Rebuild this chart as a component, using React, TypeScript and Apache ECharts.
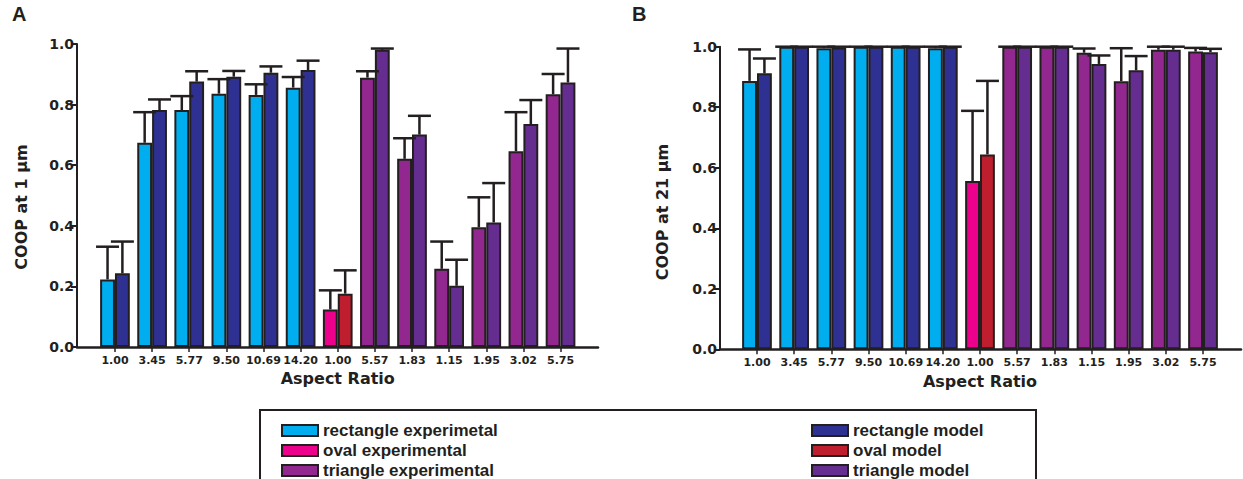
import React, { useEffect, useRef } from "react";
import * as echarts from "echarts";

const categories = ["1.00", "3.45", "5.77", "9.50", "10.69", "14.20", "1.00", "5.57", "1.83", "1.15", "1.95", "3.02", "5.75"];

// Panel A: COOP at 1 µm
const aExp = [0.223, 0.674, 0.782, 0.836, 0.832, 0.856, 0.124, 0.889, 0.621, 0.258, 0.395, 0.646, 0.834];
const aExpSd = [0.108, 0.101, 0.046, 0.048, 0.035, 0.035, 0.063, 0.021, 0.068, 0.09, 0.099, 0.129, 0.067];
const aModel = [0.243, 0.782, 0.876, 0.892, 0.905, 0.914, 0.176, 0.981, 0.701, 0.202, 0.411, 0.736, 0.873];
const aModelSd = [0.105, 0.035, 0.034, 0.019, 0.021, 0.031, 0.077, 0.004, 0.062, 0.086, 0.13, 0.079, 0.112];

// Panel B: COOP at 21 µm
const bExp = [0.887, 1.0, 0.995, 1.0, 1.0, 0.995, 0.556, 1.0, 1.0, 0.98, 0.886, 0.99, 0.984];
const bExpSd = [0.104, 0, 0.005, 0, 0, 0.005, 0.232, 0, 0, 0.014, 0.109, 0.01, 0.012];
const bModel = [0.912, 1.0, 0.997, 1.0, 1.0, 1.0, 0.644, 1.0, 1.0, 0.943, 0.922, 0.99, 0.982];
const bModelSd = [0.049, 0, 0.003, 0, 0, 0, 0.243, 0, 0, 0.028, 0.047, 0.01, 0.011];

const yTicks = [0, 0.2, 0.4, 0.6, 0.8, 1.0];

const shapes = [
  { exp: "rectangle experimetal", model: "rectangle model", from: 0, to: 5, expColor: "#00AEEF", modelColor: "#2E3192" },
  { exp: "oval experimental", model: "oval model", from: 6, to: 6, expColor: "#EC008C", modelColor: "#BE1E2D" },
  { exp: "triangle experimental", model: "triangle model", from: 7, to: 12, expColor: "#92278F", modelColor: "#662D91" },
];

const GAP = 0.2;
const INK = "#231F20";
const NUM_FONT = "DejaVu Sans";

function buildPanel(
  p: number,
  frame: { left: number; top: number; width: number; height: number },
  bars: { left: number; width: number },
  yName: string,
  yPad: number,
  yGap: number,
  exp: number[],
  expSd: number[],
  model: number[],
  modelSd: number[]
) {
  const fi = p * 2;
  const bi = p * 2 + 1;
  const grids = [
    { left: frame.left, top: frame.top, width: frame.width, height: frame.height },
    { left: bars.left, top: frame.top, width: bars.width, height: frame.height },
  ];
  const xAxes = [
    {
      gridIndex: fi,
      type: "value",
      min: 0,
      max: 1,
      axisLine: { show: true, lineStyle: { color: INK, width: 2.5 } },
      axisTick: { show: false },
      axisLabel: { show: false },
      splitLine: { show: false },
    },
    {
      gridIndex: bi,
      type: "category",
      data: categories,
      axisLine: { show: false },
      axisTick: { show: true, alignWithLabel: true, length: 5, lineStyle: { color: INK, width: 1.5 } },
      axisLabel: { interval: 0, margin: 8, color: INK, fontSize: 11, fontWeight: "bold", fontFamily: NUM_FONT },
      splitLine: { show: false },
      name: "Aspect Ratio",
      nameLocation: "middle",
      nameGap: 22,
      nameTextStyle: { color: INK, fontSize: 16, fontWeight: "bold", fontFamily: NUM_FONT },
    },
  ];
  const yAxes = [
    {
      gridIndex: fi,
      type: "value",
      min: 0,
      max: 1,
      interval: 0.2,
      axisLine: { show: true, lineStyle: { color: INK, width: 2 } },
      axisTick: { show: true, length: 6, lineStyle: { color: INK, width: 2 } },
      axisLabel: {
        margin: 3,
        color: INK,
        fontSize: 14,
        fontWeight: "bold",
        fontFamily: NUM_FONT,
        formatter: (v: number) => (yTicks.some((t) => Math.abs(t - v) < 1e-6) ? v.toFixed(1) : ""),
      },
      splitLine: { show: false },
      name: yName,
      nameLocation: "middle",
      nameGap: yGap,
      nameTextStyle: { color: INK, fontSize: 16, fontWeight: "bold", fontFamily: NUM_FONT, padding: [0, yPad, 0, 0] },
    },
    { gridIndex: bi, type: "value", min: 0, max: 1, show: false },
  ];
  const series: any[] = [];
  shapes.forEach((s) => {
    const pick = (arr: number[]) => arr.map((v, i) => (i >= s.from && i <= s.to ? v : "-"));
    series.push({
      name: s.exp,
      type: "bar",
      xAxisIndex: bi,
      yAxisIndex: bi,
      stack: "exp" + p,
      barCategoryGap: GAP * 100 + "%",
      barGap: "0%",
      data: pick(exp),
      itemStyle: { color: s.expColor, borderColor: INK, borderWidth: 2 },
    });
    series.push({
      name: s.model,
      type: "bar",
      xAxisIndex: bi,
      yAxisIndex: bi,
      stack: "model" + p,
      barCategoryGap: GAP * 100 + "%",
      barGap: "0%",
      data: pick(model),
      itemStyle: { color: s.modelColor, borderColor: INK, borderWidth: 2 },
    });
  });
  const errData = [
    ...exp.map((v, i) => [i, v, expSd[i], 0]),
    ...model.map((v, i) => [i, v, modelSd[i], 1]),
  ];
  series.push({
    type: "custom",
    xAxisIndex: bi,
    yAxisIndex: bi,
    z: 5,
    silent: true,
    encode: { x: 0, y: 1 },
    data: errData,
    renderItem: (params: any, api: any) => {
      const idx = api.value(0);
      const v = api.value(1);
      const sd = api.value(2);
      const slot = api.value(3);
      const base = api.coord([idx, v]);
      const top = api.coord([idx, v + sd]);
      const band = api.size([1, 0])[0];
      const barW = (band * (1 - GAP)) / 2;
      const cx = base[0] + (slot === 0 ? -barW / 2 : barW / 2);
      const capHalf = 11.5;
      return {
        type: "group",
        children: [
          { type: "line", shape: { x1: cx, y1: base[1], x2: cx, y2: top[1] }, style: { stroke: INK, lineWidth: 2.5 } },
          { type: "line", shape: { x1: cx - capHalf, y1: top[1], x2: cx + capHalf, y2: top[1] }, style: { stroke: INK, lineWidth: 2.5 } },
        ],
      };
    },
  });
  return { grids, xAxes, yAxes, series };
}

export default function App() {
  const ref = useRef<HTMLDivElement>(null);
  useEffect(() => {
    document.body.style.margin = "0";
    if (!ref.current) return;
    const chart = echarts.init(ref.current, undefined, { renderer: "svg" });
    const A = buildPanel(
      0,
      { left: 77, top: 44, width: 521, height: 303 },
      { left: 96.4, width: 482.7 },
      "COOP at 1 μm",
      23,
      48,
      aExp,
      aExpSd,
      aModel,
      aModelSd
    );
    const B = buildPanel(
      1,
      { left: 720, top: 46.7, width: 521, height: 302.6 },
      { left: 738.4, width: 483.2 },
      "COOP at 21 μm",
      28,
      50,
      bExp,
      bExpSd,
      bModel,
      bModelSd
    );
    const legendText = { color: INK, fontSize: 17, fontWeight: "bold", fontFamily: "Liberation Sans", lineHeight: 17 };
    const legendBase = {
      orient: "vertical",
      top: 417,
      height: 90,
      icon: "rect",
      itemWidth: 36,
      itemHeight: 11,
      itemGap: 3,
      selectedMode: false,
      itemStyle: { borderColor: INK, borderWidth: 2 },
      textStyle: legendText,
    };
    const option: any = {
      animation: false,
      backgroundColor: "#ffffff",
      grid: [...A.grids, ...B.grids],
      xAxis: [...A.xAxes, ...B.xAxes],
      yAxis: [...A.yAxes, ...B.yAxes],
      series: [...A.series, ...B.series],
      legend: [
        { ...legendBase, left: 276, data: shapes.map((s) => s.exp) },
        { ...legendBase, left: 806, data: shapes.map((s) => s.model) },
      ],
      graphic: [
        {
          type: "rect",
          shape: { x: 260, y: 410, width: 776, height: 100 },
          style: { fill: "none", stroke: INK, lineWidth: 2 },
          silent: true,
        },
        {
          type: "text",
          left: 12,
          top: 4,
          style: { text: "A", fill: INK, fontSize: 20, fontWeight: "bold", fontFamily: "Liberation Sans" },
        },
        {
          type: "text",
          left: 632,
          top: 4,
          style: { text: "B", fill: INK, fontSize: 20, fontWeight: "bold", fontFamily: "Liberation Sans" },
        },
      ],
    };
    chart.setOption(option);
    return () => chart.dispose();
  }, []);
  return <div ref={ref} style={{ width: 1243, height: 479 }} />;
}
